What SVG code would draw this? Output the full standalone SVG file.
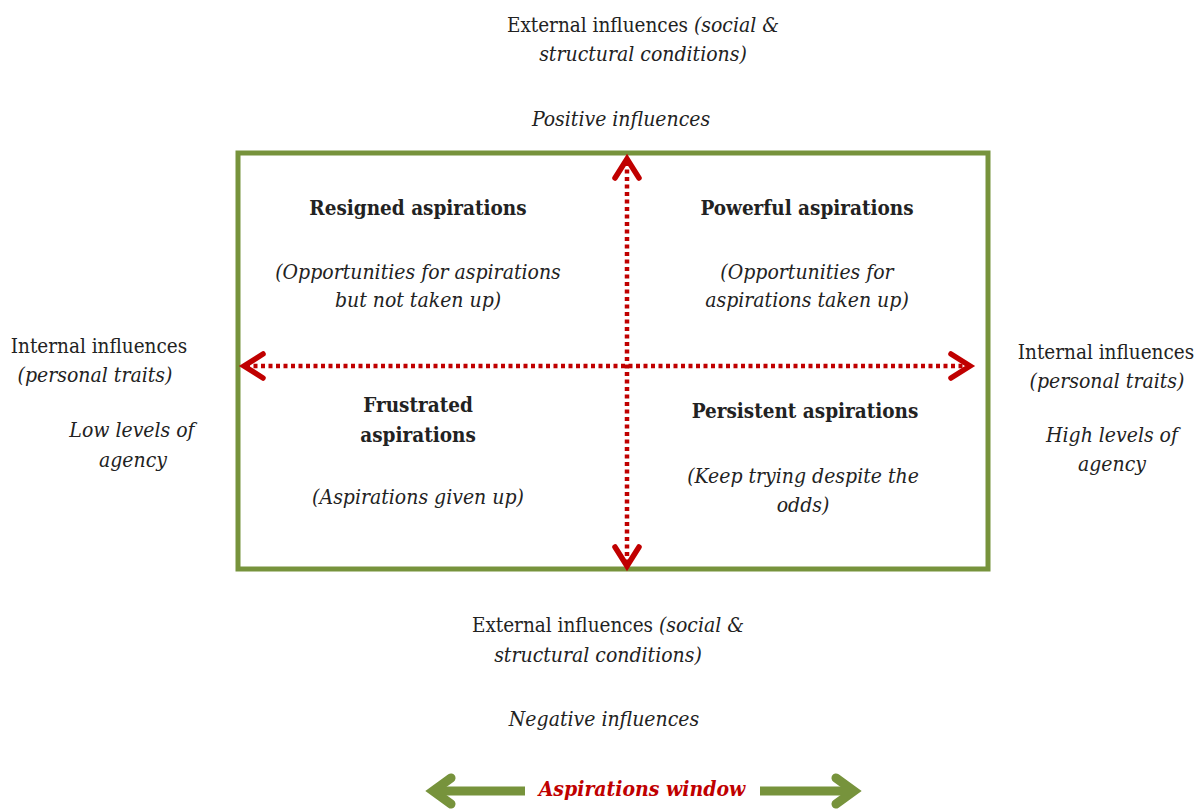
<svg xmlns="http://www.w3.org/2000/svg" width="1204" height="809" viewBox="0 0 1204 809">
<style>
text{font-family:"DejaVu Serif Condensed","DejaVu Serif","Liberation Serif",serif;font-size:20.5px;fill:#222;text-anchor:middle}
.b{font-weight:bold}
.i{font-style:italic;font-size:21px}
.red{fill:#C00000;font-weight:bold;font-style:italic;font-size:21px}
.dot{stroke:#C00000;stroke-width:4.5;stroke-dasharray:4 3.5;fill:none}
.head{stroke:#C00000;stroke-width:5.5;fill:none;stroke-linecap:round;stroke-linejoin:miter}
.green{stroke:#77933C;fill:none;stroke-width:9}
</style>
<rect width="1204" height="809" fill="#fff"/>
<g id="frame"><rect x="238" y="153" width="750" height="416" fill="none" stroke="#77933C" stroke-width="5"/></g>
<g id="connectors">
<line class="dot" x1="627" y1="162" x2="627" y2="564"/>
<polyline class="head" points="615,178 627,159 639,178"/>
<polyline class="head" points="615,547 627,566 639,547"/>
<line class="dot" x1="246" y1="366" x2="966" y2="366"/>
<polyline class="head" points="263,354 244,366 263,378"/>
<polyline class="head" points="951,354 970,366 951,378"/>
<polyline class="green" stroke-linecap="round" points="451,778 433,791 451,804"/>
<line class="green" x1="436" y1="791" x2="525" y2="791"/>
<polyline class="green" stroke-linecap="round" points="836,778 854,791 836,804"/>
<line class="green" x1="760" y1="791" x2="851" y2="791"/>
</g>
<g id="top-label"><text x="643" y="32">External influences <tspan class="i">(social &amp;</tspan></text><text x="643" y="61" class="i">structural conditions)</text></g>
<g id="positive"><text x="621" y="126" class="i">Positive influences</text></g>
<g id="resigned"><text x="418" y="215" class="b">Resigned aspirations</text><text x="418" y="279" class="i">(Opportunities for aspirations</text><text x="418" y="307" class="i">but not taken up)</text></g>
<g id="powerful"><text x="807" y="215" class="b">Powerful aspirations</text><text x="807" y="279" class="i">(Opportunities for</text><text x="807" y="307" class="i">aspirations taken up)</text></g>
<g id="frustrated"><text x="418" y="412" class="b">Frustrated</text><text x="418" y="442" class="b">aspirations</text><text x="418" y="504" class="i">(Aspirations given up)</text></g>
<g id="persistent"><text x="805" y="418" class="b">Persistent aspirations</text><text x="803" y="483" class="i">(Keep trying despite the</text><text x="803" y="512" class="i">odds)</text></g>
<g id="left-label"><text x="99" y="353">Internal influences</text><text x="95" y="382" class="i">(personal traits)</text><text x="132" y="437" class="i">Low levels of</text><text x="133" y="467" class="i">agency</text></g>
<g id="right-label"><text x="1106" y="359">Internal influences</text><text x="1107" y="388" class="i">(personal traits)</text><text x="1112" y="442" class="i">High levels of</text><text x="1112" y="471" class="i">agency</text></g>
<g id="bottom-label"><text x="608" y="632">External influences <tspan class="i">(social &amp;</tspan></text><text x="598" y="662" class="i">structural conditions)</text></g>
<g id="negative"><text x="604" y="726" class="i">Negative influences</text></g>
<g id="window"><text x="642" y="796" class="red">Aspirations window</text></g>
</svg>
